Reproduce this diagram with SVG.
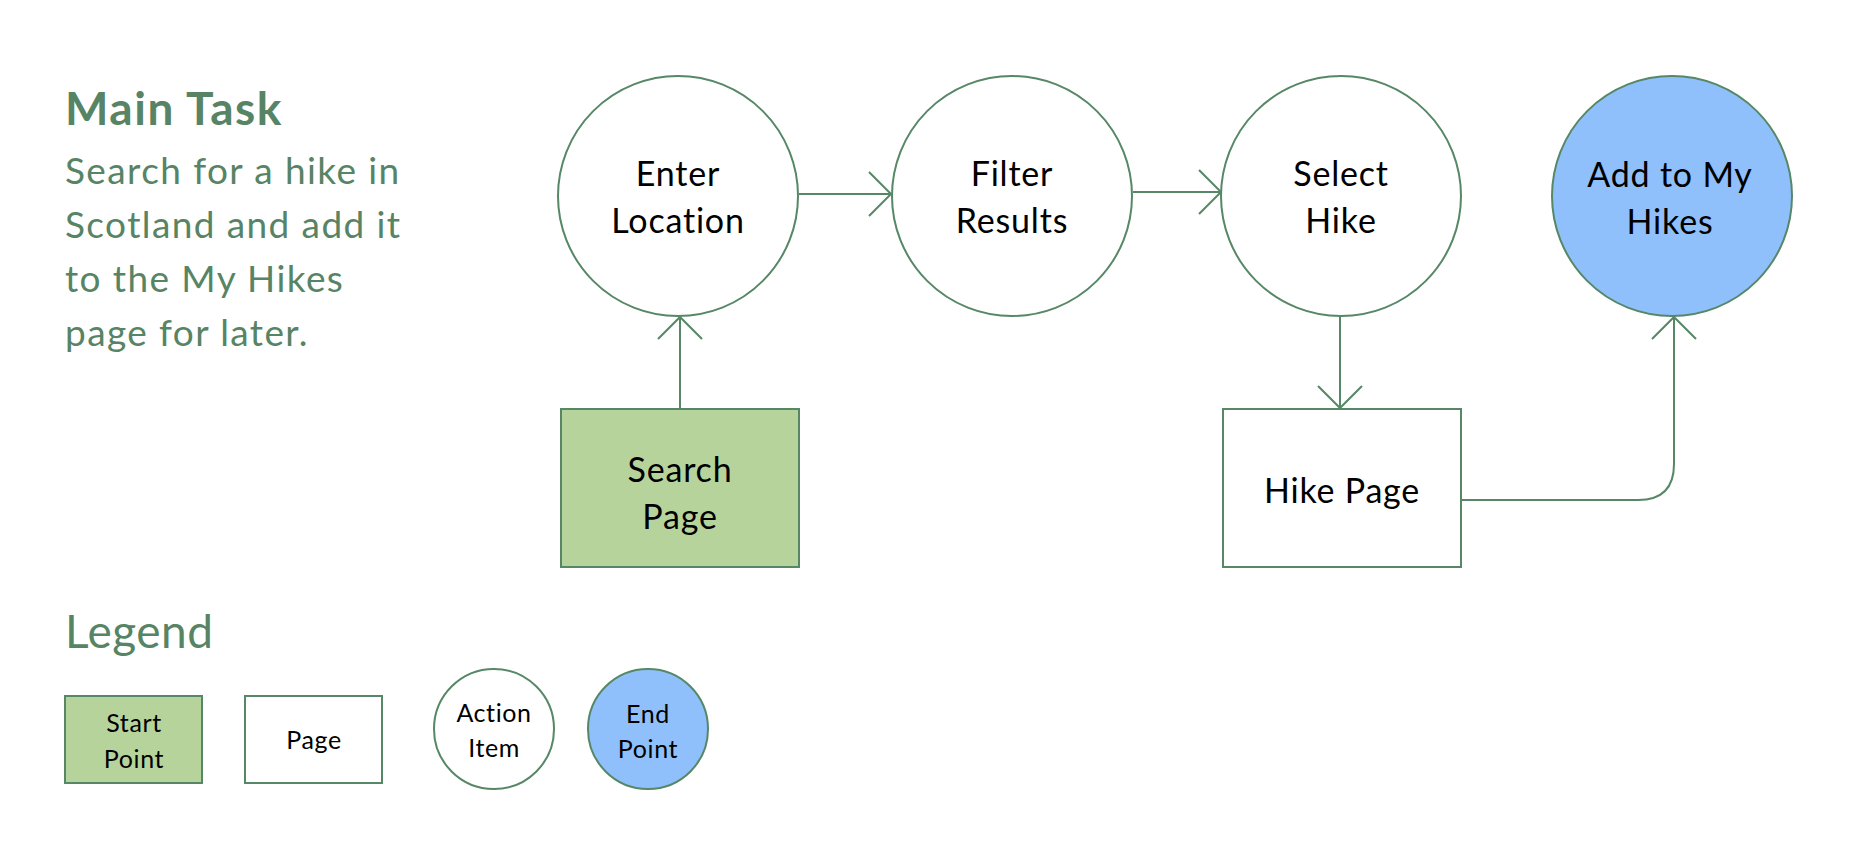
<svg xmlns="http://www.w3.org/2000/svg" width="1856" height="860" viewBox="0 0 1856 860">
<style>
.edge{fill:none;stroke:#568766;stroke-width:2}
.shape{stroke:#568766;stroke-width:2}
.lbl{font-family:Lato,"Liberation Sans",sans-serif;fill:#000;text-anchor:middle}
.big{font-size:34px;letter-spacing:0.8px}
.small{font-size:25px;letter-spacing:0.6px}
.green{font-family:Lato,"Liberation Sans",sans-serif;fill:#578464}
.desc{font-size:37px;letter-spacing:1.4px}
</style>
<defs>
<marker id="arr" markerUnits="userSpaceOnUse" markerWidth="30" markerHeight="50" viewBox="0 0 30 50" refX="25" refY="25" orient="auto">
<path d="M3,3 L25,25 L3,47" fill="none" stroke="#568766" stroke-width="2"/>
</marker>
</defs>
<rect width="1856" height="860" fill="#fff"/>

<g id="task-text">
<text class="green" x="65" y="125" font-size="46" font-weight="bold" letter-spacing="1.5">Main Task</text>
<text class="green desc" x="65" y="184">Search for a hike in</text>
<text class="green desc" x="65" y="238">Scotland and add it</text>
<text class="green desc" x="65" y="292">to the My Hikes</text>
<text class="green desc" x="65" y="346">page for later.</text>
</g>

<g id="connectors">
<path class="edge" d="M799,194 H891" marker-end="url(#arr)"/>
<path class="edge" d="M1133,192 H1221" marker-end="url(#arr)"/>
<path class="edge" d="M680,409 V317" marker-end="url(#arr)"/>
<path class="edge" d="M1340,316 V408" marker-end="url(#arr)"/>
<path class="edge" d="M1461,500 H1638 Q1674,500 1674,464 V317" marker-end="url(#arr)"/>
</g>

<g id="enter-location">
<circle class="shape" cx="678" cy="196" r="120" fill="#fff"/>
<text class="lbl big" x="678" y="186">Enter</text>
<text class="lbl big" x="678" y="233">Location</text>
</g>
<g id="filter-results">
<circle class="shape" cx="1012" cy="196" r="120" fill="#fff"/>
<text class="lbl big" x="1012" y="186">Filter</text>
<text class="lbl big" x="1012" y="233">Results</text>
</g>
<g id="select-hike">
<circle class="shape" cx="1341" cy="196" r="120" fill="#fff"/>
<text class="lbl big" x="1341" y="186">Select</text>
<text class="lbl big" x="1341" y="233">Hike</text>
</g>
<g id="add-to-my-hikes">
<circle class="shape" cx="1672" cy="196" r="120" fill="#8fc0fb"/>
<text class="lbl big" x="1670" y="187">Add to My</text>
<text class="lbl big" x="1670" y="234">Hikes</text>
</g>
<g id="search-page">
<rect class="shape" x="561" y="409" width="238" height="158" fill="#b7d39c" stroke-width="2.5"/>
<text class="lbl big" x="680" y="482">Search</text>
<text class="lbl big" x="680" y="529">Page</text>
</g>
<g id="hike-page">
<rect class="shape" x="1223" y="409" width="238" height="158" fill="#fff"/>
<text class="lbl big" x="1342" y="503">Hike Page</text>
</g>

<g id="legend">
<text class="green" x="65" y="648" font-size="46" letter-spacing="0.5">Legend</text>
<g id="legend-start">
<rect class="shape" x="65" y="696" width="137" height="87" fill="#b7d39c"/>
<text class="lbl small" x="134" y="732">Start</text>
<text class="lbl small" x="134" y="768">Point</text>
</g>
<g id="legend-page">
<rect class="shape" x="245" y="696" width="137" height="87" fill="#fff"/>
<text class="lbl small" x="314" y="749">Page</text>
</g>
<g id="legend-action">
<circle class="shape" cx="494" cy="729" r="60" fill="#fff"/>
<text class="lbl small" x="494" y="722">Action</text>
<text class="lbl small" x="494" y="757">Item</text>
</g>
<g id="legend-end">
<circle class="shape" cx="648" cy="729" r="60" fill="#8fc0fb"/>
<text class="lbl small" x="648" y="723">End</text>
<text class="lbl small" x="648" y="758">Point</text>
</g>
</g>
</svg>
